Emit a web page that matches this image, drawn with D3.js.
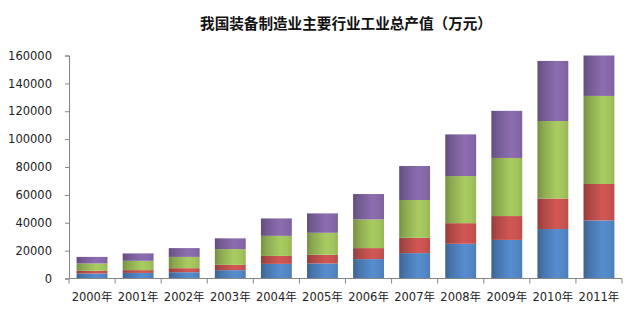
<!DOCTYPE html>
<html>
<head>
<meta charset="utf-8">
<script src="https://cdn.jsdelivr.net/npm/d3@7"></script>
<style>
  html, body { margin: 0; padding: 0; background: #fff; }
  svg { display: block; }
</style>
</head>
<body>
<svg id="chart" width="626" height="323"></svg>
<script>
// Gross industrial output of the main equipment-manufacturing sectors (10k yuan)
const chartTitle = "我国装备制造业主要行业工业总产值（万元）";
const years = ["2000年", "2001年", "2002年", "2003年", "2004年", "2005年",
               "2006年", "2007年", "2008年", "2009年", "2010年", "2011年"];
const seriesKeys = ["s1", "s2", "s3", "s4"];
const s1 = [3600, 4000, 4500, 6000, 10500, 10800, 13900, 18200, 24900, 27700, 35500, 41700];
const s2 = [1900, 2000, 2900, 3800, 5700, 6200, 7900, 11000, 14800, 17100, 21900, 26100];
const s3 = [5300, 6700, 8100, 11300, 14400, 15800, 20600, 27100, 33800, 41700, 55600, 63200];
const s4 = [4700, 5300, 6300, 7700, 12500, 13900, 18200, 24400, 29900, 33800, 43100, 29000];
const yTicks = [0, 20000, 40000, 60000, 80000, 100000, 120000, 140000, 160000];
const seriesColors = ["#4F81BD", "#C0504D", "#9BBB59", "#8064A2"];

const rows = years.map((y, i) => ({ year: y, s1: s1[i], s2: s2[i], s3: s3[i], s4: s4[i] }));
const stacked = d3.stack().keys(seriesKeys)(rows);

const svg = d3.select("#chart");
const fontFamily = "'DejaVu Sans', 'Noto Sans CJK SC', sans-serif";

const x = d3.scaleBand().domain(years).range([69, 622])
  .paddingInner(0.33).paddingOuter(0.165);
const y = d3.scaleLinear().domain([0, 160000]).range([278.5, 55.5]);

// cylinder-like horizontal shading for each series
const defs = svg.append("defs");
seriesColors.forEach((c, i) => {
  const g = defs.append("linearGradient").attr("id", "grad" + i)
    .attr("x1", "0%").attr("x2", "100%").attr("y1", "0%").attr("y2", "0%");
  const base = d3.color(c);
  [[0, base.darker(0.75)], [0.18, base.darker(0.3)], [0.62, base.brighter(0.25)],
   [0.85, base.brighter(0.12)], [1, base.darker(0.1)]].forEach(([o, col]) => {
    g.append("stop").attr("offset", o).attr("stop-color", col.formatHex());
  });
});

// title
svg.append("text")
  .attr("x", 346).attr("y", 29)
  .attr("text-anchor", "middle")
  .attr("font-family", "'Noto Sans CJK SC', sans-serif")
  .attr("font-weight", "bold")
  .attr("font-size", 14.6)
  .attr("fill", "#111")
  .text(chartTitle);

// bars
const bw = x.bandwidth();
svg.append("g").selectAll("g")
  .data(stacked)
  .join("g")
  .attr("fill", (d, i) => `url(#grad${i})`)
  .selectAll("rect")
  .data(d => d)
  .join("rect")
  .attr("x", d => x(d.data.year))
  .attr("width", bw)
  .attr("y", d => y(d[1]))
  .attr("height", d => y(d[0]) - y(d[1]));

// y axis
const yAxis = d3.axisLeft(y).tickValues(yTicks).tickSize(4).tickPadding(13)
  .tickFormat(d3.format("d"));
const gy = svg.append("g").attr("transform", "translate(69,0)").call(yAxis);
gy.select(".domain").attr("stroke", "#868686");
gy.selectAll(".tick line").attr("stroke", "#868686");
gy.selectAll(".tick text")
  .attr("font-family", fontFamily).attr("font-size", 11.5).attr("fill", "#222");

// x axis: baseline, ticks at category boundaries, labels at centres
const xBase = y(0);
svg.append("line")
  .attr("x1", 69).attr("x2", 622).attr("y1", xBase).attr("y2", xBase)
  .attr("stroke", "#868686");
const step = x.step();
const bounds = d3.range(years.length + 1).map(i => x.range()[0] + i * step);
svg.append("g").selectAll("line")
  .data(bounds)
  .join("line")
  .attr("x1", d => d).attr("x2", d => d)
  .attr("y1", xBase).attr("y2", xBase + 5)
  .attr("stroke", "#868686");
svg.append("g").selectAll("text")
  .data(years)
  .join("text")
  .attr("x", d => x(d) + bw / 2)
  .attr("y", 301)
  .attr("text-anchor", "middle")
  .attr("font-family", fontFamily)
  .attr("font-size", 11.5)
  .attr("fill", "#222")
  .text(d => d);
</script>
</body>
</html>
